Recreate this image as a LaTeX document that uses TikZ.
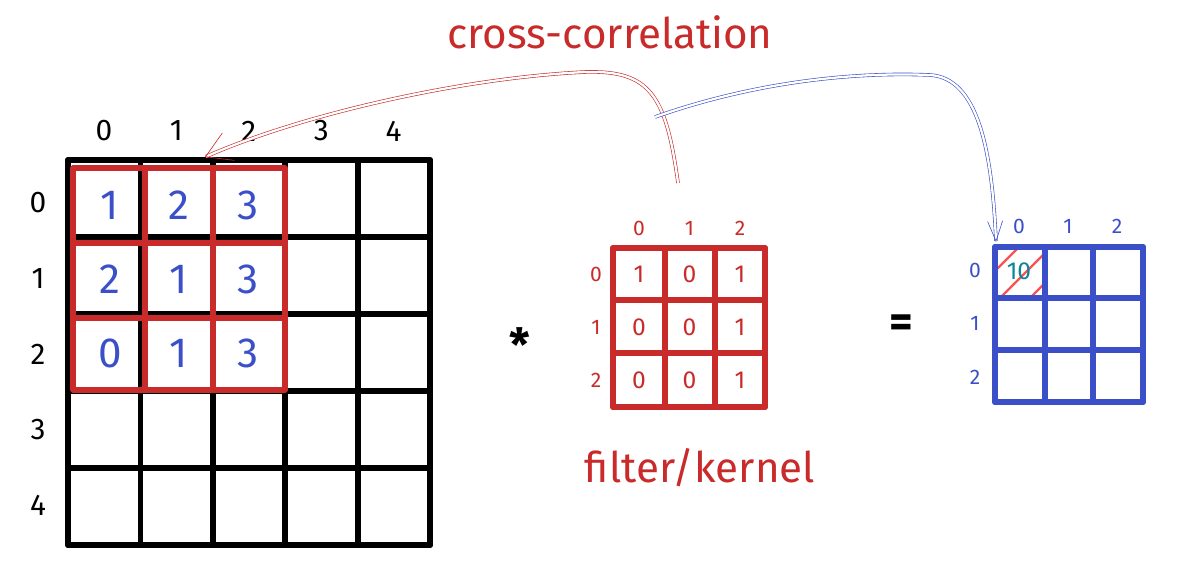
\documentclass[tikz,border=0pt]{standalone}
\usepackage{fontspec}
\setmainfont{Fira Sans}
\usepackage{xcolor}
\usetikzlibrary{arrows.meta, positioning, calc}

\definecolor{inkred}{HTML}{C92A2A}
\definecolor{inkblue}{HTML}{3B50C8}
\definecolor{inkteal}{HTML}{0C8599}
\definecolor{hatchred}{HTML}{FA5252}

\begin{document}
\begin{tikzpicture}[x=0.02cm, y=-0.02cm,
    gridline/.style={line width=3.3pt, line cap=round},
    winline/.style={line width=2.9pt, draw=inkred, line cap=round},
    kerline/.style={line width=3.3pt, draw=inkred, line cap=round},
    outline/.style={line width=3.3pt, draw=inkblue, line cap=round},
    idx/.style={font=\fontsize{17}{19}\selectfont, inner sep=0pt},
    kidx/.style={font=\fontsize{12}{14}\selectfont, text=inkred, inner sep=0pt},
    oidx/.style={font=\fontsize{12}{14}\selectfont, text=inkblue, inner sep=0pt},
    bignum/.style={font=\fontsize{24}{26}\selectfont, text=inkblue, inner sep=0pt},
    knum/.style={font=\fontsize{14}{16}\selectfont, text=inkred, inner sep=0pt},
    title/.style={font=\fontsize{24}{28}\selectfont, text=inkred, inner sep=0pt},
    sketch/.style={line width=0.35pt, double=white, double distance=1.3pt}
]
\useasboundingbox (0,0) rectangle (1199,572);

% Input grid 5x5
\foreach \i in {0,...,5} {
  \draw[gridline] ({68+72.4*\i},160) -- ({68+72.4*\i},545);
  \draw[gridline] (68,{160+77*\i}) -- (430,{160+77*\i});
}
\foreach \i in {0,...,4} {
  \node[idx] (col-\i) at ({104+72.4*\i},131) {\i};
  \node[idx] (row-\i) at (38,{203+75.5*\i}) {\i};
}

% Window under the kernel
\foreach \x in {73,145,213,285} \draw[winline] (\x,168) -- (\x,390);
\foreach \y in {168,243,318,390} \draw[winline] (73,\y) -- (285,\y);

\foreach \v/\c/\r in {1/0/0, 2/1/0, 3/2/0, 2/0/1, 1/1/1, 3/2/1, 0/0/2, 1/1/2, 3/2/2}
  \node[bignum] (in-\r-\c) at ({110+69*\c},{205+74*\r}) {\v};

% Operator
\node[font=\fontsize{26}{28}\selectfont\bfseries, inner sep=0pt] (star) at (520,345) {*};

% Kernel 3x3
\foreach \x in {613,665,715,765} \draw[kerline] (\x,248) -- (\x,407);
\foreach \y in {248,300,353,407} \draw[kerline] (613,\y) -- (765,\y);
\foreach \i in {0,1,2} {
  \node[kidx] (kcol-\i) at ({639+50.5*\i},228) {\i};
  \node[kidx] (krow-\i) at (596,{274+53*\i}) {\i};
}
\foreach \v/\c/\r in {1/0/0, 0/1/0, 1/2/0, 0/0/1, 0/1/1, 1/2/1, 0/0/2, 0/1/2, 1/2/2}
  \node[knum] (k-\r-\c) at ({639+50.5*\c},{274+53*\r}) {\v};

\node[title] (kname) at (700,468) {filter/kernel};

% Equals
\node[font=\fontsize{26}{28}\selectfont\bfseries, inner sep=0pt] (eq) at (901,326) {=};

% Output 3x3
\begin{scope}
  \clip (993,245) rectangle (1047,300);
  \foreach \s in {1266,1298,1328} \draw[hatchred, line width=1.3pt] ({\s-305},305) -- ({\s-240},240);
\end{scope}
\foreach \x in {995,1045,1093,1143} \draw[outline] (\x,247) -- (\x,402);
\foreach \y in {247,298,350,402} \draw[outline] (995,\y) -- (1143,\y);
\foreach \i in {0,1,2} {
  \node[oidx] (ocol-\i) at ({1019+49*\i},226) {\i};
  \node[oidx] (orow-\i) at (975,{270+53.5*\i}) {\i};
}
\node[font=\fontsize{14}{16}\selectfont, text=inkteal, inner sep=0pt] (out-0-0) at (1019,271) {10};

\node[title] (opname) at (610,32) {cross-correlation};

% Connectors
\coordinate (kstart) at (678,183);
\coordinate (split) at (655,117);
\coordinate (wintop) at (205,157);
\coordinate (outtop) at (996,242);

\draw[sketch, draw=inkred, -{Straight Barb[length=5mm, width=6mm]}]
  (kstart) .. controls (666,95) and (650,70) .. (585,72)
  .. controls (460,78) and (300,115) .. (wintop);
\draw[sketch, draw=inkblue, -{Straight Barb[length=4mm, width=3mm]}]
  (split) .. controls (760,80) and (860,72) .. (930,75)
  .. controls (978,78) and (992,150) .. (outtop);
\end{tikzpicture}
\end{document}
